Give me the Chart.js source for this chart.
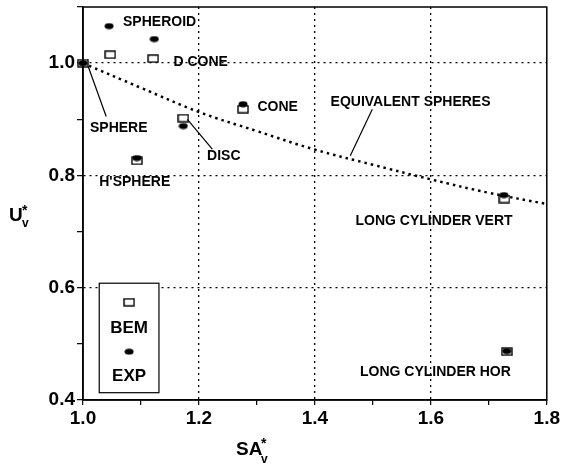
<!DOCTYPE html>
<html>
<head>
<meta charset="utf-8">
<script src="https://cdn.jsdelivr.net/npm/chart.js@4.4.1/dist/chart.umd.min.js"></script>
<style>
  html, body { margin: 0; padding: 0; background: #fff; }
  #wrap { width: 562px; height: 464px; }
</style>
</head>
<body>
<div id="wrap"><canvas id="chart"></canvas></div>
<script>
const shapeNames = ['SPHERE', 'SPHEROID', 'D CONE', 'CONE', 'DISC', "H'SPHERE", 'LONG CYLINDER VERT', 'LONG CYLINDER HOR'];
const bemSA = [1.0, 1.047, 1.121, 1.276, 1.173, 1.093, 1.727, 1.731];
const bemU  = [1.0, 1.015, 1.008, 0.918, 0.902, 0.826, 0.758, 0.486];
const expSA = [1.0, 1.045, 1.123, 1.276, 1.173, 1.093, 1.726, 1.731];
const expU  = [1.0, 1.066, 1.043, 0.927, 0.888, 0.831, 0.765, 0.487];

// equivalent spheres curve
const eqSA = [1.0, 1.1, 1.2, 1.3, 1.4, 1.5, 1.6, 1.7, 1.8];
const eqU  = [1.0, 0.956, 0.913, 0.879, 0.846, 0.819, 0.793, 0.769, 0.749];

const xTickLabels = ['1.0', '1.2', '1.4', '1.6', '1.8'];
const yTickLabels = ['0.4', '0.6', '0.8', '1.0'];

// text notes on the plot, placed in data units
const notes = [
  { text: 'SPHEROID', x: 1.069, y: 1.073, align: 'left' },
  { text: 'D CONE', x: 1.156, y: 1.001, align: 'left' },
  { text: 'CONE', x: 1.301, y: 0.921, align: 'left' },
  { text: 'EQUIVALENT SPHERES', x: 1.427, y: 0.930, align: 'left', line: [1.499, 0.918, 1.461, 0.835] },
  { text: 'SPHERE', x: 1.012, y: 0.884, align: 'left', line: [1.009, 0.994, 1.040, 0.905] },
  { text: 'DISC', x: 1.214, y: 0.835, align: 'left', line: [1.180, 0.900, 1.223, 0.847] },
  { text: "H'SPHERE", x: 1.028, y: 0.788, align: 'left' },
  { text: 'LONG CYLINDER VERT', x: 1.741, y: 0.719, align: 'right' },
  { text: 'LONG CYLINDER HOR', x: 1.738, y: 0.449, align: 'right' }
];

const FONT = "'Liberation Sans', Arial, sans-serif";

const makeMarker = (w, h, draw) => {
  const c = document.createElement('canvas');
  c.width = w;
  c.height = h;
  draw(c.getContext('2d'));
  return c;
};

const bemMarker = makeMarker(12, 9, g => {
  g.fillStyle = '#fff';
  g.fillRect(1, 1, 10, 7);
  g.strokeStyle = '#000';
  g.lineWidth = 1.4;
  g.strokeRect(1, 1, 10, 7);
});

const expMarker = makeMarker(10, 7, g => {
  g.fillStyle = '#000';
  g.beginPath();
  g.ellipse(5, 3.5, 4.5, 3, 0, 0, Math.PI * 2);
  g.fill();
});

const isMajor = v => Math.abs(v * 5 - Math.round(v * 5)) < 1e-6;

const gridColor = (lo, hi) => ctx => {
  const v = ctx.tick ? ctx.tick.value : null;
  if (v == null) return 'rgba(0,0,0,0)';
  if (isMajor(v) && v > lo + 1e-6 && v < hi - 1e-6) return '#000';
  return 'rgba(0,0,0,0)';
};

const overlay = {
  id: 'overlay',
  afterDatasetsDraw(chart) {
    const { ctx, chartArea: a, scales: { x, y } } = chart;
    ctx.save();

    // frame
    ctx.strokeStyle = '#000';
    ctx.lineWidth = 1.5;
    ctx.strokeRect(a.left, a.top, a.right - a.left, a.bottom - a.top);

    // notes and leader lines
    ctx.fillStyle = '#000';
    ctx.font = 'bold 14px ' + FONT;
    ctx.textBaseline = 'middle';
    notes.forEach(n => {
      ctx.textAlign = n.align;
      ctx.fillText(n.text, x.getPixelForValue(n.x), y.getPixelForValue(n.y));
      if (n.line) {
        ctx.lineWidth = 1.2;
        ctx.beginPath();
        ctx.moveTo(x.getPixelForValue(n.line[0]), y.getPixelForValue(n.line[1]));
        ctx.lineTo(x.getPixelForValue(n.line[2]), y.getPixelForValue(n.line[3]));
        ctx.stroke();
      }
    });

    // legend box
    const bx0 = x.getPixelForValue(1.028), bx1 = x.getPixelForValue(1.131);
    const by0 = y.getPixelForValue(0.608), by1 = y.getPixelForValue(0.413);
    ctx.fillStyle = '#fff';
    ctx.fillRect(bx0, by0, bx1 - bx0, by1 - by0);
    ctx.lineWidth = 1.2;
    ctx.strokeRect(bx0, by0, bx1 - bx0, by1 - by0);
    const cx = (bx0 + bx1) / 2;
    ctx.drawImage(bemMarker, cx - 6, y.getPixelForValue(0.574) - 4.5);
    ctx.drawImage(expMarker, cx - 5, y.getPixelForValue(0.486) - 3.5);
    ctx.fillStyle = '#000';
    ctx.font = 'bold 17px ' + FONT;
    ctx.textAlign = 'center';
    ctx.fillText('BEM', cx, y.getPixelForValue(0.528));
    ctx.fillText('EXP', cx, y.getPixelForValue(0.442));

    ctx.restore();
  },
  afterDraw(chart) {
    const { ctx } = chart;
    ctx.save();
    ctx.fillStyle = '#000';
    ctx.textBaseline = 'alphabetic';
    ctx.textAlign = 'left';
    // x title SA*v
    ctx.font = 'bold 19px ' + FONT;
    ctx.fillText('SA', 236, 455);
    ctx.font = 'bold 14px ' + FONT;
    ctx.fillText('*', 261, 448);
    ctx.font = 'bold 12px ' + FONT;
    ctx.fillText('v', 261, 463);
    // y title U*v
    ctx.font = 'bold 19px ' + FONT;
    ctx.fillText('U', 9, 221);
    ctx.font = 'bold 14px ' + FONT;
    ctx.fillText('*', 22, 215);
    ctx.font = 'bold 12px ' + FONT;
    ctx.fillText('v', 22, 227);
    ctx.restore();
  }
};

new Chart(document.getElementById('chart'), {
  type: 'scatter',
  data: {
    datasets: [
      {
        label: 'EXP',
        data: expSA.map((v, i) => ({ x: v, y: expU[i] })),
        pointStyle: expMarker,
        pointRadius: 5,
        clip: false
      },
      {
        label: 'BEM',
        data: bemSA.map((v, i) => ({ x: v, y: bemU[i] })),
        pointStyle: bemMarker,
        pointRadius: 6,
        clip: false
      },
      {
        label: 'EQUIVALENT SPHERES',
        type: 'line',
        data: eqSA.map((v, i) => ({ x: v, y: eqU[i] })),
        borderColor: '#000',
        borderWidth: 2.5,
        borderDash: [2.5, 4],
        pointRadius: 0,
        tension: 0.4,
        fill: false
      }
    ]
  },
  options: {
    responsive: true,
    maintainAspectRatio: false,
    animation: false,
    layout: { padding: { left: 0, right: 15, top: 5, bottom: 0 } },
    plugins: {
      legend: { display: false },
      tooltip: { enabled: false }
    },
    scales: {
      x: {
        type: 'linear',
        min: 1.0,
        max: 1.8,
        afterFit: scale => { scale.height = 64; },
        ticks: {
          stepSize: 0.1,
          autoSkip: false,
          maxRotation: 0,
          padding: 2,
          color: '#000',
          font: { family: FONT, size: 19, weight: 'bold' },
          callback: v => isMajor(v) ? xTickLabels[Math.round((v - 1.0) * 5)] : ''
        },
        grid: {
          color: gridColor(1.0, 1.8),
          lineWidth: 1.3,
          tickColor: '#000',
          tickLength: 5,
          tickWidth: 1.2
        },
        border: { display: true, color: '#000', width: 1.5, dash: [2, 4] }
      },
      y: {
        type: 'linear',
        min: 0.4,
        max: 1.1,
        afterFit: scale => {
          scale.width = 83;
          scale.paddingTop = 0;
          scale.paddingBottom = 0;
        },
        ticks: {
          stepSize: 0.1,
          autoSkip: false,
          padding: 2,
          color: '#000',
          font: { family: FONT, size: 19, weight: 'bold' },
          callback: v => (isMajor(v) && v < 1.05) ? yTickLabels[Math.round((v - 0.4) * 5)] : ''
        },
        grid: {
          color: gridColor(0.4, 1.1),
          lineWidth: 1.3,
          tickColor: '#000',
          tickLength: 6,
          tickWidth: 1.2
        },
        border: { display: true, color: '#000', width: 1.5, dash: [2, 4] }
      }
    }
  },
  plugins: [overlay]
});
</script>
</body>
</html>
